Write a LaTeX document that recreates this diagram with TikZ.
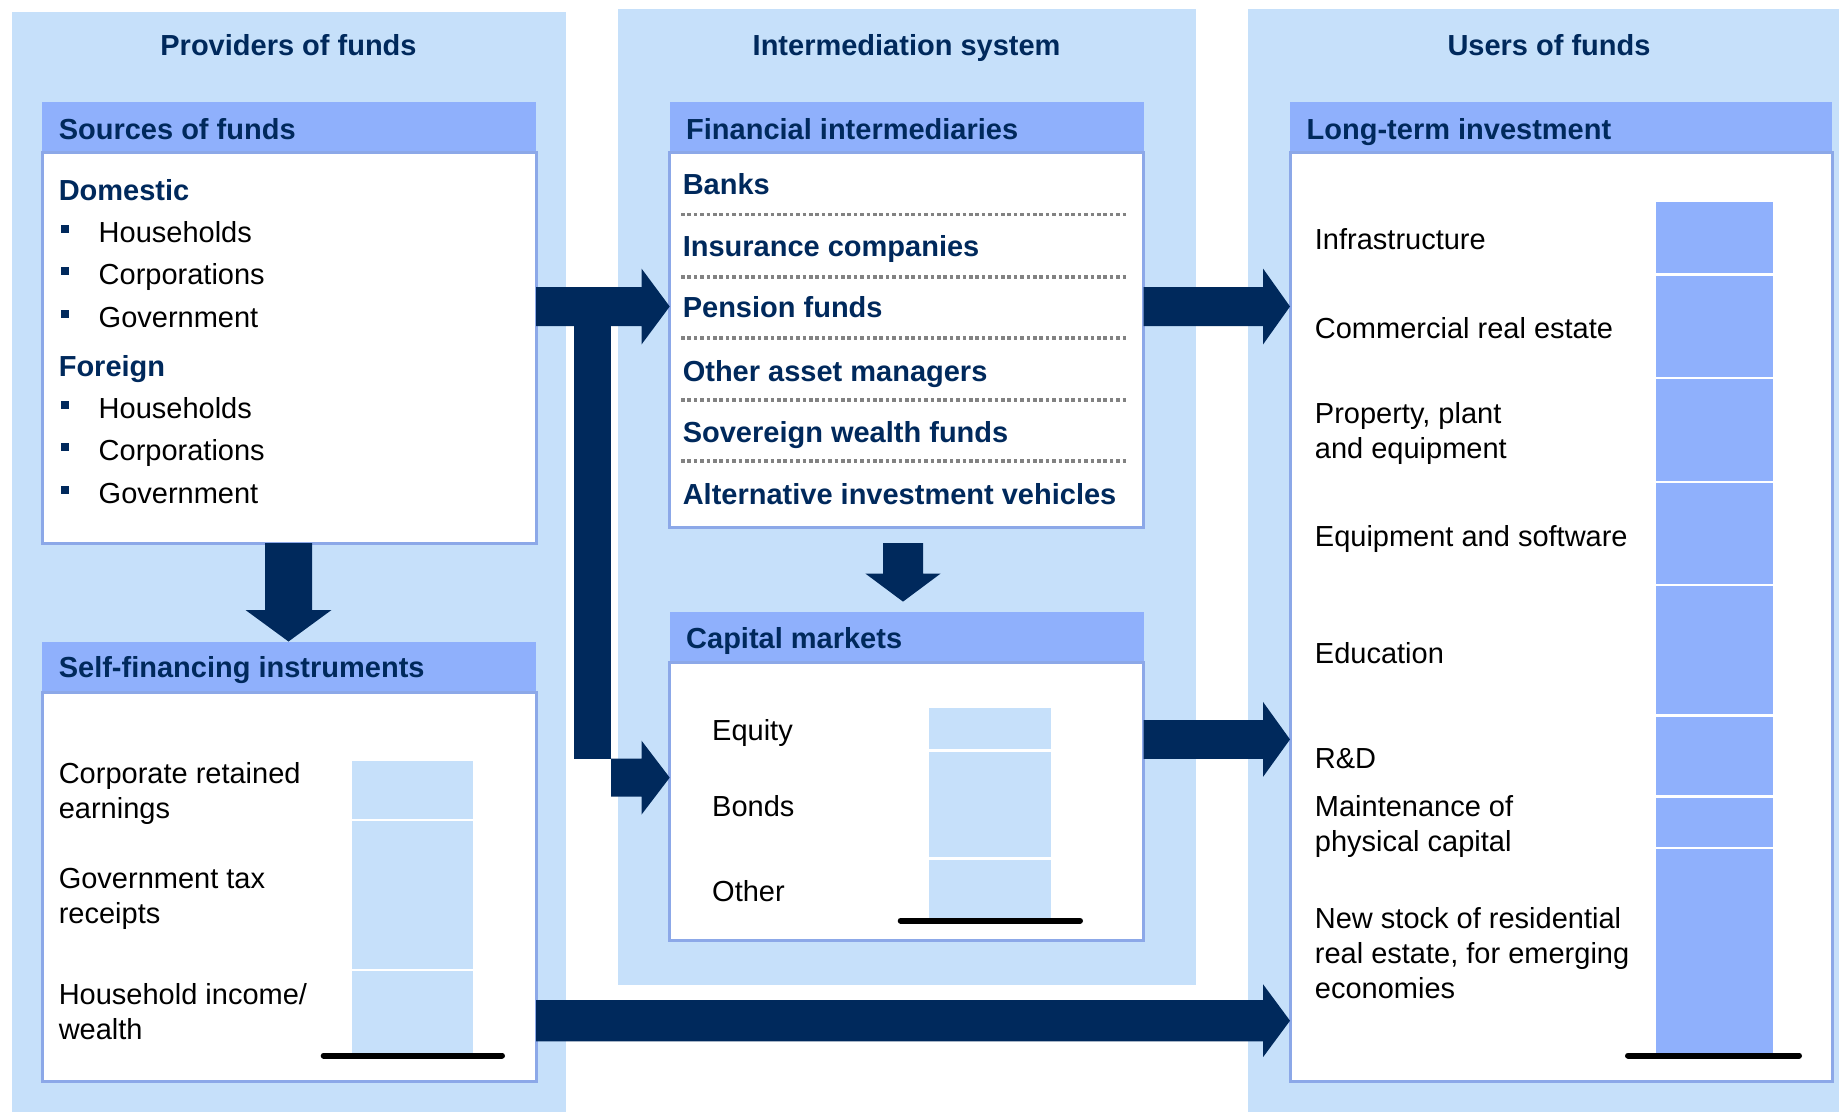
\documentclass[tikz,border=0pt]{standalone}
\usepackage{fontspec}
\setmainfont{Liberation Sans}
\definecolor{panelbg}{RGB}{198,224,250}
\definecolor{hdrfill}{RGB}{143,176,252}
\definecolor{bordercol}{RGB}{140,168,232}
\definecolor{navy}{RGB}{0,41,92}
\definecolor{dotgray}{RGB}{130,130,130}
\newcommand\panelbox[5]{%
  \fill[white] (#1,#4) rectangle (#3,#5);
  \fill[hdrfill] (#1,#2) rectangle (#3,#4);
  \draw[bordercol, line width=3pt] (#1,#4) rectangle (#3,#5);
}
\newcommand\rarrow[7]{% xs xb xt yc h H name
  \fill[navy] (#1,#4-#5) -- (#2,#4-#5) -- (#2,#4-#6) -- (#3,#4) -- (#2,#4+#6) -- (#2,#4+#5) -- (#1,#4+#5) -- cycle;
  \coordinate (#7) at (#3,#4);
}
\newcommand\darrow[7]{% ys yb yt xc h H name
  \fill[navy] (#4-#5,#1) -- (#4-#5,#2) -- (#4-#6,#2) -- (#4,#3) -- (#4+#6,#2) -- (#4+#5,#2) -- (#4+#5,#1) -- cycle;
  \coordinate (#7) at (#4,#3);
}
\begin{document}
\begin{tikzpicture}[x=1pt,y=-1pt, font=\fontsize{29}{35}\selectfont,
  oneline/.style={text height=21pt, text depth=0pt},
  ttl/.style={oneline, text=navy, font=\fontsize{29}{35}\selectfont\bfseries, inner sep=0pt},
  hdrtxt/.style={oneline, text=navy, font=\fontsize{29}{35}\selectfont\bfseries, anchor=west, inner sep=0pt},
  bodytxt/.style={text=black, anchor=west, inner sep=0pt, align=left},
  onetxt/.style={oneline, text=black, anchor=west, inner sep=0pt},
  itemtxt/.style={oneline, text=navy, font=\fontsize{29}{35}\selectfont\bfseries, anchor=west, inner sep=0pt},
  dotline/.style={dotgray, line width=3.6pt, dash pattern=on 3.6pt off 2.8pt},
  lightseg/.style={fill=panelbg},
  darkseg/.style={fill=hdrfill},
  baseln/.style={black, line width=6pt, line cap=round}]
\useasboundingbox (0,0) rectangle (1839,1112);
\fill[white] (0,0) rectangle (1839,1112);
% panels
\fill[panelbg] (12,12) rectangle (566,1112);
\fill[panelbg] (618,9) rectangle (1196,985);
\fill[panelbg] (1248,9) rectangle (1839,1112);
\node[ttl] (t1) at (288.5,45) {Providers of funds};
\node[ttl] (t2) at (906.6,45) {Intermediation system};
\node[ttl] (t3) at (1549,45) {Users of funds};

% Sources of funds
\panelbox{42}{102}{536}{152.5}{543}
\node[hdrtxt] (hs) at (58.6,129) {Sources of funds};
\node[itemtxt] (dom) at (58.6,190) {Domestic};
\node[itemtxt] (for) at (58.6,366) {Foreign};
\foreach \y/\t [count=\i] in {232/Households,274.4/Corporations,316.7/Government,408/Households,450/Corporations,492.6/Government}{
  \fill[navy] (61.3,\y-7) rectangle (69.3,\y+1);
  \node[onetxt] (src\i) at (98.5,\y) {\t};
}

% Self-financing
\panelbox{42}{641.5}{536}{692}{1081}
\node[hdrtxt] (hsf) at (58.6,667) {Self-financing instruments};
\node[bodytxt] (sf1) at (58.6,793.8) {Corporate retained\\earnings};
\node[bodytxt] (sf2) at (58.6,899.3) {Government tax\\receipts};
\node[bodytxt] (sf3) at (58.6,1012) {Household income/\\wealth};
\fill[lightseg] (352,761) rectangle (472.6,818.6);
\fill[lightseg] (352,821) rectangle (472.6,968.7);
\fill[lightseg] (352,971) rectangle (472.6,1053);
\coordinate (sfb1) at (323.7,1055.5);
\coordinate (sfb2) at (502,1055.5);
\draw[baseln] (sfb1) -- (sfb2);

% Financial intermediaries
\panelbox{669.7}{102}{1143.5}{152.5}{527.8}
\node[hdrtxt] (hfi) at (686,129) {Financial intermediaries};
\foreach \y/\t [count=\i] in {184/Banks,246/Insurance companies,307/Pension funds,370.6/Other asset managers,431.6/Sovereign wealth funds,493.7/Alternative investment vehicles}{
  \node[itemtxt] (fi\i) at (682.6,\y) {\t};
}
\foreach \y in {214.6,276.8,337.8,400,461}{
  \draw[dotline] (681,\y) -- (1126,\y);
}

% Capital markets
\panelbox{669.7}{612}{1143.5}{662.6}{940.6}
\node[hdrtxt] (hcm) at (686,638) {Capital markets};
\node[onetxt] (cm1) at (712,729.5) {Equity};
\node[onetxt] (cm2) at (712,805.7) {Bonds};
\node[onetxt] (cm3) at (712,891) {Other};
\fill[lightseg] (929,708) rectangle (1051,749.4);
\fill[lightseg] (929,751.8) rectangle (1051,857);
\fill[lightseg] (929,859.6) rectangle (1051,918.3);
\coordinate (cmb1) at (900.7,920.6);
\coordinate (cmb2) at (1080,920.6);
\draw[baseln] (cmb1) -- (cmb2);

% Long-term investment
\panelbox{1290}{102}{1832}{152.5}{1081}
\node[hdrtxt] (hlt) at (1306.5,129) {Long-term investment};
\node[onetxt] (lt1) at (1314.7,239) {Infrastructure};
\node[onetxt] (lt2) at (1314.7,328) {Commercial real estate};
\node[bodytxt] (lt3) at (1314.7,433.8) {Property, plant\\and equipment};
\node[onetxt] (lt4) at (1314.7,536) {Equipment and software};
\node[onetxt] (lt5) at (1314.7,653) {Education};
\node[onetxt] (lt6) at (1314.7,757.6) {R\&D};
\node[bodytxt] (lt7) at (1314.7,826.8) {Maintenance of\\physical capital};
\node[bodytxt] (lt8) at (1314.7,953.5) {New stock of residential\\real estate, for emerging\\economies};
\foreach \a/\b in {201.7/273,275.6/376.5,378.8/480.8,483/584,586.4/714,716.6/795,797.5/846.8,849/1053}{
  \fill[darkseg] (1656,\a) rectangle (1773,\b);
}
\coordinate (ltb1) at (1628,1055.5);
\coordinate (ltb2) at (1799,1055.5);
\draw[baseln] (ltb1) -- (ltb2);

% Arrows
\rarrow{536}{641.5}{669.7}{306.5}{19.5}{38}{aFI}
\fill[navy] (573.5,326) rectangle (611,758.6);
\rarrow{611}{641.5}{669.7}{777.6}{19}{37}{aCM}
\rarrow{1143.5}{1263}{1290}{306.5}{19.5}{38}{aLT1}
\rarrow{1143.5}{1263}{1290}{739.4}{19.4}{37.5}{aLT2}
\rarrow{536}{1263}{1290}{1020.7}{20.7}{36.5}{aLT3}
\darrow{543}{610}{641.5}{288.5}{23.5}{43}{aSF}
\darrow{543}{573.5}{601.6}{903}{20}{37.7}{aCMd}
\end{tikzpicture}
\end{document}
